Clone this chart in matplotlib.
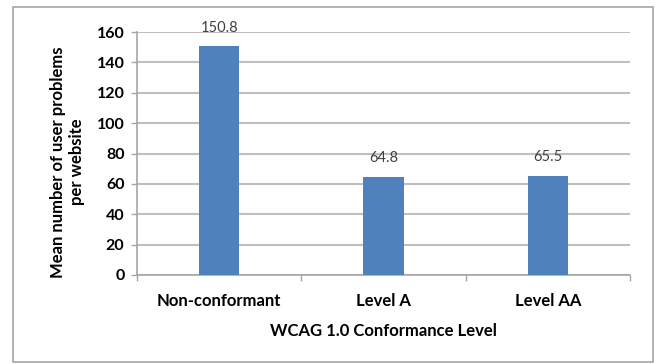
import matplotlib.pyplot as plt
from matplotlib.patches import Rectangle

# mean user problems per website by conformance level
levels = ["Non-conformant", "Level A", "Level AA"]
mean_problems = [150.8, 64.8, 65.5]
y_ticks = [0, 20, 40, 60, 80, 100, 120, 140, 160]

bar_color = "#4F81BD"
grid_color = "#BFBFBF"
axis_color = "#A6A6A6"
font = ["Lato", "DejaVu Sans"]

fig = plt.figure(figsize=(6.55, 3.64), dpi=100)
ax = fig.add_axes([137 / 655, 1 - 275 / 364, (630 - 137) / 655, (275 - 32) / 364])

x = range(len(levels))
ax.bar(x, mean_problems, width=0.245, color=bar_color, zorder=3)

# value labels above each bar
for xi, v in zip(x, mean_problems):
    ax.annotate(f"{v}", (xi, v), xytext=(0, 8), textcoords="offset points",
                ha="center", va="bottom", fontsize=10.5, color="#404040", family=font)

ax.set_xlim(-0.5, len(levels) - 0.5)
ax.set_ylim(0, 160)
ax.set_yticks(y_ticks)
ax.set_yticklabels([str(t) for t in y_ticks], fontsize=11.5, fontweight="bold", family=font)
ax.set_xticks(list(x))
ax.set_xticklabels(levels, fontsize=12, fontweight="bold", family=font)
ax.tick_params(axis="x", length=0, pad=13)
ax.tick_params(axis="y", length=4, width=1, color=axis_color, pad=5)

# category boundary ticks along the bottom axis
ax.set_xticks([-0.5, 0.5, 1.5, 2.5], minor=True)
ax.tick_params(axis="x", which="minor", length=4, width=1, color=axis_color)

ax.grid(axis="y", color=grid_color, linewidth=1.5, zorder=0)
ax.set_axisbelow(True)
for side in ["top", "right"]:
    ax.spines[side].set_visible(False)
for side in ["left", "bottom"]:
    ax.spines[side].set_color(axis_color)
    ax.spines[side].set_linewidth(1.2)

ax.set_xlabel("WCAG 1.0 Conformance Level", fontsize=12, fontweight="bold",
              family=font, labelpad=10)
ax.set_ylabel("Mean number of user problems\nper website", fontsize=12, fontweight="bold",
              family=font, linespacing=1.25)
ax.yaxis.set_label_coords(-0.105, 0.465)

# chart frame
fig.patches.append(Rectangle((13 / 655, 1 - 362 / 364), (653 - 13) / 655, (362 - 7) / 364,
                             transform=fig.transFigure, fill=False,
                             edgecolor="#A6A6A6", linewidth=1.2))

fig.savefig("out.png", dpi=100)
